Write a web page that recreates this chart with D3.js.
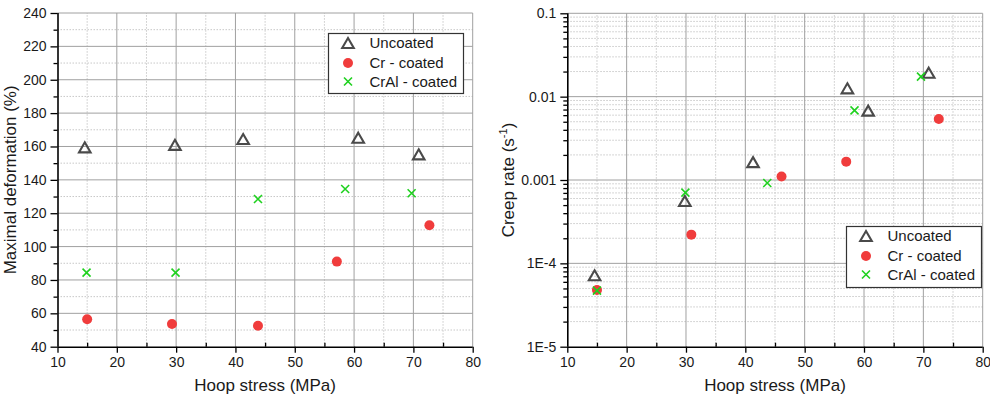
<!DOCTYPE html>
<html><head><meta charset="utf-8">
<script src="https://cdn.jsdelivr.net/npm/d3@7"></script>
<style>
body{margin:0;background:#fff;}
svg{display:block;font-family:"Liberation Sans",Arial,sans-serif;}
</style></head>
<body><svg id="c" width="990" height="401"></svg>
<script>
// ---- data ----
const seriesNames = ["Uncoated", "Cr - coated", "CrAl - coated"];
// Left panel: maximal deformation (%)
const defUncoatedX = [14.6, 29.8, 41.3, 60.7, 70.9];
const defUncoatedY = [159.5, 161, 164.5, 165.3, 155.3];
const defCrX = [15.0, 29.3, 43.8, 57.1, 72.7];
const defCrY = [56.4, 53.6, 52.6, 91, 112.8];
const defCrAlX = [14.9, 29.9, 43.8, 58.5, 69.7];
const defCrAlY = [84.4, 84.4, 128.5, 134.5, 132];
// Right panel: creep rate (1/s)
const rateUncoatedX = [14.6, 29.8, 41.3, 57.2, 60.7, 70.9];
const rateUncoatedY = [7.2e-5, 5.6e-4, 1.64e-3, 0.0126, 0.0068, 0.0194];
const rateCrX = [15.0, 30.9, 46.1, 57.0, 72.6];
const rateCrY = [4.8e-5, 2.21e-4, 1.1e-3, 1.66e-3, 5.4e-3];
const rateCrAlX = [15.0, 29.9, 43.7, 58.4, 69.6];
const rateCrAlY = [4.7e-5, 7.05e-4, 9.2e-4, 6.85e-3, 0.0174];
// ticks
const xTicks = [10, 20, 30, 40, 50, 60, 70, 80];
const xTickLabels = ["10", "20", "30", "40", "50", "60", "70", "80"];
const defTicks = [40, 60, 80, 100, 120, 140, 160, 180, 200, 220, 240];
const rateTicks = [1e-5, 1e-4, 1e-3, 1e-2, 1e-1];
const rateTickLabels = ["1E-5", "1E-4", "0.001", "0.01", "0.1"];

const colors = {tri: "#4a4a4a", red: "#f03c3c", green: "#1fd11f"};
const svg = d3.select("#c");

function zip(xs, ys){ return xs.map((x,i)=>({x, y: ys[i]})); }

function drawPanel(o){
  const g = svg.append("g");
  const x = o.x, y = o.y;
  const [x0, x1] = x.range();
  const [yb, yt] = y.range();
  // minor grid
  const xMinor = d3.range(15, 80, 10);
  g.selectAll(".xmg").data(xMinor).join("line")
    .attr("x1", d=>x(d)).attr("x2", d=>x(d)).attr("y1", yb).attr("y2", yt)
    .attr("stroke", "#c8c8c8").attr("stroke-width", 1).attr("stroke-dasharray", "1.5,1.5");
  g.selectAll(".ymg").data(o.yMinor).join("line")
    .attr("x1", x0).attr("x2", x1).attr("y1", d=>y(d)).attr("y2", d=>y(d))
    .attr("stroke", "#c8c8c8").attr("stroke-width", 1).attr("stroke-dasharray", "1.5,1.5");
  // major grid
  g.selectAll(".xg").data(xTicks.slice(1)).join("line")
    .attr("x1", d=>x(d)).attr("x2", d=>x(d)).attr("y1", yb).attr("y2", yt)
    .attr("stroke", "#a0a0a0").attr("stroke-width", 1);
  g.selectAll(".yg").data(o.yTicks.slice(1)).join("line")
    .attr("x1", x0).attr("x2", x1).attr("y1", d=>y(d)).attr("y2", d=>y(d))
    .attr("stroke", "#a0a0a0").attr("stroke-width", 1);

  // axes
  const xa = g.append("g").attr("transform", `translate(0,${yb})`)
    .call(d3.axisBottom(x).tickValues(xTicks).tickFormat((d,i)=>xTickLabels[i]).tickSizeInner(6).tickSizeOuter(0).tickPadding(4));
  g.append("g").attr("transform", `translate(0,${yb})`)
    .call(d3.axisTop(x).tickValues(xMinor).tickFormat("").tickSizeInner(4).tickSizeOuter(0))
    .select(".domain").remove();
  const ya = g.append("g").attr("transform", `translate(${x0},0)`)
    .call(d3.axisLeft(y).tickValues(o.yTicks).tickFormat((d,i)=>o.yTickLabels[i]).tickSizeInner(7).tickSizeOuter(0).tickPadding(4));
  g.append("g").attr("transform", `translate(${x0},0)`)
    .call(d3.axisLeft(y).tickValues(o.yMinor).tickFormat("").tickSizeInner(4).tickSizeOuter(0))
    .select(".domain").remove();
  g.selectAll(".domain").attr("stroke", "#000").attr("stroke-width", 1.6);
  g.selectAll(".tick line").attr("stroke", "#000").attr("stroke-width", 1.3);
  g.selectAll(".tick text").attr("font-size", 14).attr("fill", "#1a1a1a").attr("font-family", "Liberation Sans, Arial, sans-serif");
  xa.selectAll(".domain").attr("d", `M${x0},0.5H${x1}`);
  ya.selectAll(".domain").attr("d", `M0.5,${yb}V${yt}`);

  // titles
  g.append("text").attr("x", (x0+x1)/2).attr("y", 391).attr("text-anchor", "middle")
    .attr("font-size", 17).attr("fill", "#1a1a1a").text("Hoop stress (MPa)");
  const yt2 = g.append("text").attr("transform", `translate(${o.yTitleX},${(yb+yt)/2}) rotate(-90)`)
    .attr("text-anchor", "middle").attr("font-size", 17).attr("fill", "#1a1a1a");
  o.yTitle(yt2);

  // markers (triangle shifted so its bounding box is centred on the point)
  const tri = d3.symbol().type(d3.symbolTriangle).size(58);
  const triOff = 1.7;
  g.selectAll(".tri").data(zip(o.data[0][0], o.data[0][1])).join("path")
    .attr("d", tri).attr("transform", d=>`translate(${x(d.x)},${y(d.y)+triOff})`)
    .attr("fill", "none").attr("stroke", colors.tri).attr("stroke-width", 2.1);
  g.selectAll(".cir").data(zip(o.data[1][0], o.data[1][1])).join("circle")
    .attr("cx", d=>x(d.x)).attr("cy", d=>y(d.y)).attr("r", 5).attr("fill", colors.red);
  const cross = "M-4,-4L4,4M-4,4L4,-4";
  g.selectAll(".crs").data(zip(o.data[2][0], o.data[2][1])).join("path")
    .attr("d", cross).attr("transform", d=>`translate(${x(d.x)},${y(d.y)})`)
    .attr("fill", "none").attr("stroke", colors.green).attr("stroke-width", 1.6);

  // legend
  const L = o.legend;
  const lg = g.append("g").attr("transform", `translate(${L.x},${L.y})`);
  lg.append("rect").attr("x", 0.5).attr("y", 0.5).attr("width", L.w).attr("height", L.h)
    .attr("fill", "#fff").attr("stroke", "#333").attr("stroke-width", 1.2);
  const rows = [10, 30, 48.5];
  lg.append("path").attr("d", tri).attr("transform", `translate(20,${rows[0]+triOff})`)
    .attr("fill", "none").attr("stroke", colors.tri).attr("stroke-width", 2.1);
  lg.append("circle").attr("cx", 20).attr("cy", rows[1]).attr("r", 5).attr("fill", colors.red);
  lg.append("path").attr("d", cross).attr("transform", `translate(20,${rows[2]})`)
    .attr("fill", "none").attr("stroke", colors.green).attr("stroke-width", 1.6);
  lg.selectAll(".lt").data(seriesNames).join("text")
    .attr("x", 41.5).attr("y", (d,i)=>rows[i]).attr("dy", "0.36em")
    .attr("font-size", 15).attr("fill", "#1a1a1a").text(d=>d);
}

// left panel
const xL = d3.scaleLinear().domain([10, 80]).range([57.5, 472.7]);
const yL = d3.scaleLinear().domain([40, 240]).range([346.7, 13]);
drawPanel({
  x: xL, y: yL,
  yTicks: defTicks, yTickLabels: defTicks.map(String),
  yMinor: d3.range(50, 240, 20),
  yTitleX: 16,
  yTitle: t => t.text("Maximal deformation (%)"),
  data: [[defUncoatedX, defUncoatedY], [defCrX, defCrY], [defCrAlX, defCrAlY]],
  legend: {x: 328, y: 33, w: 135, h: 60}
});

// right panel
const xR = d3.scaleLinear().domain([10, 80]).range([567.3, 982.7]);
const yR = d3.scaleLog().domain([1e-5, 0.1]).range([346.7, 13.3]);
const logMinor = [];
[1e-5, 1e-4, 1e-3, 1e-2].forEach(b => { for (let k = 2; k <= 9; k++) logMinor.push(b*k); });
drawPanel({
  x: xR, y: yR,
  yTicks: rateTicks, yTickLabels: rateTickLabels,
  yMinor: logMinor,
  yTitleX: 514,
  yTitle: t => {
    t.append("tspan").text("Creep rate (s");
    t.append("tspan").attr("font-size", 11).attr("dy", -7).text("-1");
    t.append("tspan").attr("dy", 7).text(")");
  },
  data: [[rateUncoatedX, rateUncoatedY], [rateCrX, rateCrY], [rateCrAlX, rateCrAlY]],
  legend: {x: 846, y: 226, w: 135, h: 61}
});
</script></body></html>
